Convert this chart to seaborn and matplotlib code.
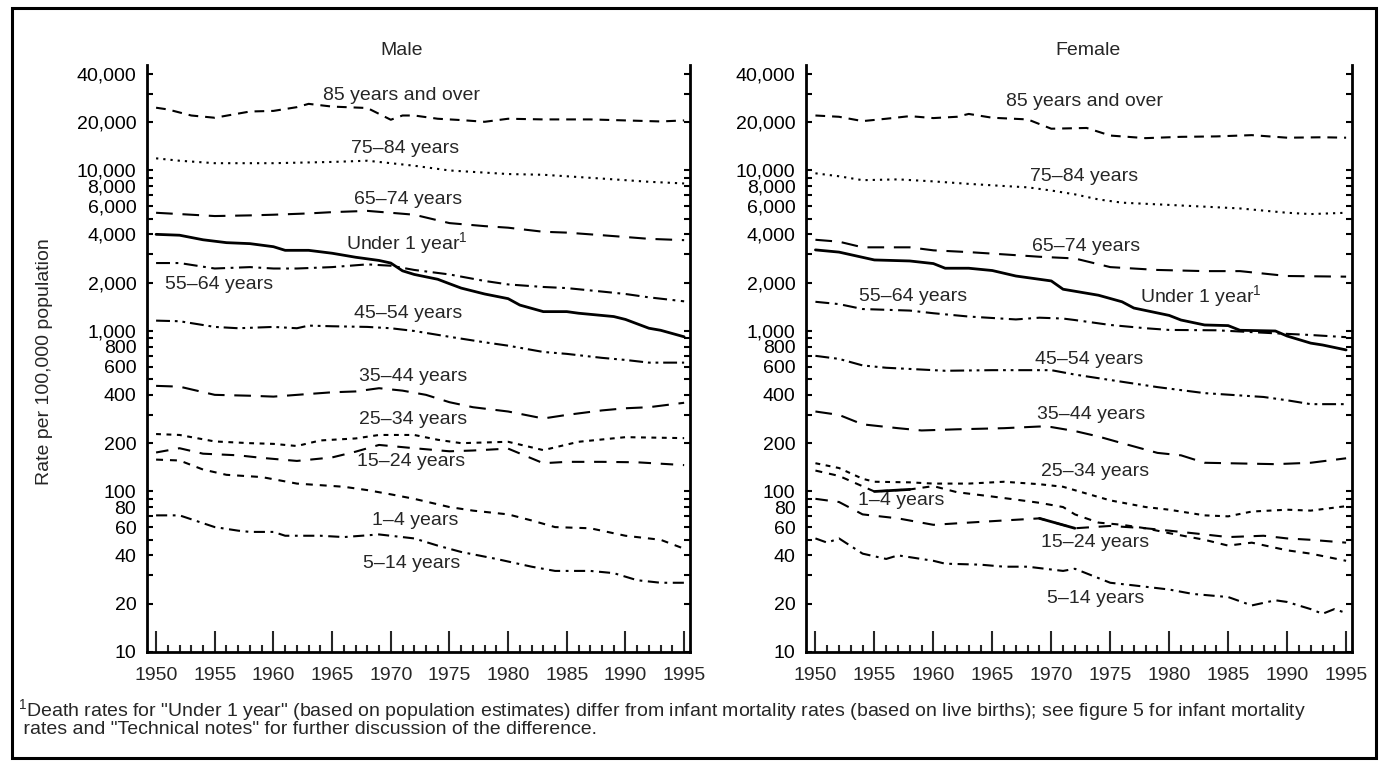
import matplotlib
matplotlib.use('Agg')
import matplotlib.pyplot as plt
import seaborn as sns
from matplotlib.patches import Rectangle
from matplotlib.ticker import FixedLocator, FixedFormatter, MultipleLocator, NullLocator

# ---- data (rate per 100,000) ----
# Male
m_85_yr = [1950, 1951, 1953, 1955, 1958, 1960, 1962, 1963, 1965, 1968, 1970, 1971, 1972, 1974, 1976, 1978, 1980, 1983, 1987, 1990, 1993, 1995]
m_85 = [24600, 24000, 22000, 21300, 23300, 23500, 24800, 26000, 25000, 24500, 20700, 22000, 22000, 21000, 20600, 20100, 21000, 20800, 20800, 20500, 20200, 20500]
m_75_yr = [1950, 1952, 1955, 1960, 1965, 1968, 1970, 1972, 1975, 1980, 1983, 1985, 1988, 1990, 1992, 1995]
m_75 = [11900, 11500, 11100, 11100, 11300, 11500, 11100, 10700, 10000, 9500, 9400, 9200, 8900, 8700, 8500, 8300]
m_65_yr = [1950, 1952, 1955, 1958, 1960, 1963, 1965, 1968, 1970, 1972, 1975, 1978, 1980, 1983, 1985, 1988, 1990, 1992, 1995]
m_65 = [5450, 5350, 5200, 5250, 5300, 5400, 5500, 5600, 5450, 5300, 4700, 4500, 4400, 4150, 4100, 3950, 3850, 3750, 3680]
m_u1_yr = [1950, 1952, 1954, 1956, 1958, 1960, 1961, 1963, 1965, 1967, 1969, 1970, 1971, 1972, 1974, 1975, 1976, 1978, 1980, 1981, 1983, 1985, 1986, 1989, 1990, 1992, 1993, 1995]
m_u1 = [4000, 3950, 3700, 3550, 3500, 3350, 3180, 3180, 3050, 2880, 2750, 2650, 2370, 2250, 2100, 1970, 1850, 1700, 1590, 1450, 1320, 1320, 1290, 1230, 1180, 1040, 1010, 920]
m_55_yr = [1950, 1952, 1955, 1958, 1960, 1962, 1965, 1968, 1970, 1972, 1975, 1978, 1980, 1983, 1985, 1988, 1990, 1992, 1995]
m_55 = [2650, 2650, 2450, 2500, 2450, 2450, 2500, 2600, 2550, 2400, 2250, 2050, 1950, 1880, 1850, 1760, 1700, 1620, 1530]
m_45_yr = [1950, 1952, 1955, 1957, 1960, 1962, 1963, 1965, 1968, 1970, 1972, 1975, 1978, 1980, 1983, 1985, 1988, 1990, 1992, 1995]
m_45 = [1160, 1150, 1060, 1040, 1060, 1040, 1080, 1070, 1060, 1040, 1000, 920, 850, 810, 740, 720, 680, 660, 635, 635]
m_35_yr = [1950, 1952, 1955, 1958, 1960, 1963, 1965, 1967, 1969, 1971, 1973, 1975, 1977, 1980, 1983, 1985, 1988, 1990, 1992, 1995]
m_35 = [455, 450, 400, 395, 390, 405, 415, 420, 440, 425, 400, 360, 335, 315, 285, 300, 320, 330, 335, 357]
m_25_yr = [1950, 1952, 1955, 1958, 1960, 1962, 1964, 1967, 1969, 1972, 1974, 1976, 1980, 1983, 1986, 1990, 1995]
m_25 = [228, 225, 205, 200, 198, 192, 208, 214, 225, 225, 210, 200, 204, 181, 204, 218, 215]
m_15_yr = [1950, 1952, 1954, 1957, 1959, 1962, 1965, 1967, 1969, 1972, 1975, 1977, 1980, 1983, 1985, 1988, 1991, 1995]
m_15 = [175, 186, 172, 168, 162, 155, 163, 177, 195, 186, 178, 180, 185, 150, 153, 153, 152, 146]
m_1_yr = [1950, 1952, 1954, 1956, 1959, 1962, 1966, 1968, 1970, 1972, 1975, 1977, 1980, 1982, 1984, 1987, 1990, 1993, 1995]
m_1 = [158, 156, 137, 127, 123, 112, 107, 102, 96, 90, 80, 76, 72, 66, 60, 59, 53, 50, 44]
m_5_yr = [1950, 1952, 1955, 1957, 1958, 1960, 1961, 1964, 1966, 1969, 1972, 1974, 1976, 1979, 1982, 1984, 1987, 1989, 1991, 1993, 1995]
m_5 = [71, 71, 60, 57, 56, 56, 53, 53, 52, 54, 51, 46, 42, 38, 34, 32, 32, 31, 28, 27, 27]

# Female
f_85_yr = [1950, 1952, 1954, 1956, 1958, 1960, 1962, 1963, 1965, 1968, 1970, 1973, 1975, 1978, 1981, 1984, 1987, 1990, 1993, 1995]
f_85 = [22000, 21600, 20300, 21000, 21800, 21200, 21600, 22500, 21300, 20800, 18200, 18400, 16500, 15900, 16200, 16300, 16600, 16000, 16100, 16000]
f_75_yr = [1950, 1952, 1954, 1957, 1960, 1963, 1966, 1968, 1970, 1972, 1974, 1976, 1980, 1983, 1986, 1990, 1992, 1995]
f_75 = [9600, 9200, 8700, 8800, 8550, 8250, 8000, 7850, 7500, 7100, 6600, 6300, 6100, 5950, 5800, 5450, 5350, 5450]
f_65_yr = [1950, 1952, 1954, 1958, 1960, 1963, 1966, 1969, 1972, 1975, 1979, 1983, 1986, 1990, 1995]
f_65 = [3700, 3600, 3320, 3320, 3180, 3100, 3000, 2900, 2830, 2500, 2400, 2360, 2360, 2200, 2180]
f_u1_yr = [1950, 1952, 1955, 1958, 1960, 1961, 1963, 1965, 1967, 1970, 1971, 1974, 1976, 1977, 1980, 1981, 1983, 1985, 1986, 1989, 1990, 1992, 1993, 1995]
f_u1 = [3200, 3100, 2770, 2730, 2630, 2460, 2460, 2380, 2200, 2050, 1820, 1670, 1520, 1390, 1250, 1170, 1090, 1080, 1010, 1000, 930, 840, 818, 762]
f_55_yr = [1950, 1952, 1954, 1958, 1960, 1963, 1967, 1969, 1971, 1972, 1975, 1978, 1980, 1984, 1989, 1992, 1995]
f_55 = [1520, 1470, 1370, 1340, 1290, 1230, 1180, 1210, 1195, 1170, 1090, 1040, 1015, 1010, 967, 944, 915]
f_45_yr = [1950, 1952, 1954, 1956, 1959, 1961, 1965, 1970, 1972, 1975, 1979, 1983, 1988, 1990, 1992, 1995]
f_45 = [700, 670, 610, 590, 575, 565, 570, 570, 535, 495, 447, 410, 388, 370, 350, 350]
f_35_yr = [1950, 1952, 1954, 1957, 1959, 1962, 1966, 1969, 1970, 1972, 1974, 1976, 1979, 1981, 1983, 1989, 1992, 1995]
f_35 = [315, 300, 262, 248, 240, 244, 248, 254, 252, 238, 220, 200, 174, 168, 151, 148, 151, 161]
f_25_yr = [1950, 1952, 1954, 1955, 1958, 1960, 1963, 1966, 1969, 1971, 1973, 1975, 1978, 1980, 1983, 1985, 1987, 1990, 1992, 1995]
f_25 = [150, 140, 120, 115, 114, 112, 112, 115, 111, 107, 97, 88, 80, 77, 71, 70, 75, 77, 76, 81]
f_15_yr = [1950, 1952, 1954, 1957, 1960, 1963, 1966, 1969, 1972, 1975, 1978, 1980, 1983, 1985, 1988, 1990, 1992, 1995]
f_15 = [90, 86, 72, 68, 62, 64, 66, 68, 59, 61, 59, 57, 54, 52, 53, 51, 50, 48]
f_1_yr = [1950, 1952, 1955, 1958, 1960, 1962, 1965, 1967, 1969, 1971, 1972, 1974, 1976, 1978, 1980, 1983, 1985, 1987, 1990, 1992, 1995]
f_1 = [135, 125, 100, 103, 108, 99, 93, 89, 85, 80, 72, 64, 62, 59, 55, 50, 46, 48, 43, 41, 37]
f_5_yr = [1950, 1951, 1952, 1954, 1956, 1957, 1960, 1961, 1964, 1966, 1968, 1971, 1972, 1975, 1977, 1980, 1982, 1985, 1987, 1989, 1990, 1992, 1993, 1994, 1995]
f_5 = [51, 48, 51, 41, 38, 40, 37, 35.5, 35, 34, 34, 32, 33, 27, 26, 24.5, 23, 22, 19.5, 21, 20.5, 18.5, 17.3, 18.5, 17.5]

# years where the printed female lines turn solid
f_1_solid = (1955, 1958)
f_15_solid = (1969, 1972)

# curve labels: text, year, rate
male_labels = [
    ('85 years and over', 1964.2, 29500), ('75\u201384 years', 1966.6, 13750),
    ('65\u201374 years', 1966.9, 6550), ('Under 1 year$^{1}$', 1966.2, 3550),
    ('55\u201364 years', 1950.8, 1935), ('45\u201354 years', 1966.9, 1290),
    ('35\u201344 years', 1967.3, 519), ('25\u201334 years', 1967.3, 279),
    ('15\u201324 years', 1967.1, 153), ('1\u20134 years', 1968.4, 66),
    ('5\u201314 years', 1967.6, 35.5),
]
female_labels = [
    ('85 years and over', 1966.2, 26800), ('75\u201384 years', 1968.2, 9150),
    ('65\u201374 years', 1968.4, 3350), ('Under 1 year$^{1}$', 1977.5, 1650),
    ('55\u201364 years', 1953.7, 1636), ('45\u201354 years', 1968.6, 660),
    ('35\u201344 years', 1968.8, 300), ('25\u201334 years', 1969.1, 133),
    ('1\u20134 years', 1953.6, 88.5), ('15\u201324 years', 1969.1, 48.4),
    ('5\u201314 years', 1969.6, 21.5),
]

footnote = ('$^{1}$Death rates for "Under 1 year" (based on population estimates) differ from '
            'infant mortality rates (based on live births); see figure 5 for infant mortality\n'
            ' rates and "Technical notes" for further discussion of the difference.')

# dash patterns in points
styles = {
    '85': (0, (7, 5)),
    '75': (0, (1.6, 3.6)),
    '65': (0, (12, 7)),
    'u1': '-',
    '55': (0, (10, 4, 2, 4)),
    '45': (0, (10, 3.5, 2, 3.5, 2, 3.5)),
    '35': (0, (12, 7)),
    '25': (0, (3.5, 4)),
    '15': (0, (9, 7)),
    '1': (0, (5, 5)),
    '5': (0, (8, 4, 2, 4)),
}

sns.set_style('white')
plt.rcParams['font.family'] = ['Liberation Sans', 'DejaVu Sans']
plt.rcParams['mathtext.fontset'] = 'custom'
plt.rcParams['mathtext.rm'] = 'Liberation Sans'
plt.rcParams['mathtext.it'] = 'Liberation Sans'
plt.rcParams['lines.scale_dashes'] = False
FS = 14

fig = plt.figure(figsize=(13.86, 7.66), dpi=100)
W, H = 1386, 766
ax_m = fig.add_axes([146.7 / W, 1 - 652 / H, 543.3 / W, 587 / H])
ax_f = fig.add_axes([806 / W, 1 - 652 / H, 546 / W, 587 / H])

male = [('85', m_85_yr, m_85), ('75', m_75_yr, m_75), ('65', m_65_yr, m_65),
        ('u1', m_u1_yr, m_u1), ('55', m_55_yr, m_55), ('45', m_45_yr, m_45),
        ('35', m_35_yr, m_35), ('25', m_25_yr, m_25), ('15', m_15_yr, m_15),
        ('1', m_1_yr, m_1), ('5', m_5_yr, m_5)]
female = [('85', f_85_yr, f_85), ('75', f_75_yr, f_75), ('65', f_65_yr, f_65),
          ('u1', f_u1_yr, f_u1), ('55', f_55_yr, f_55), ('45', f_45_yr, f_45),
          ('35', f_35_yr, f_35), ('25', f_25_yr, f_25), ('15', f_15_yr, f_15),
          ('1', f_1_yr, f_1), ('5', f_5_yr, f_5)]

for ax, series in [(ax_m, male), (ax_f, female)]:
    for key, yr, val in series:
        lw = 2.0 if key == 'u1' else 1.5
        sns.lineplot(x=yr, y=val, ax=ax, color='black', lw=lw,
                     linestyle=styles[key], errorbar=None)

# solid stretches in the female panel
for yr, val, span in [(f_1_yr, f_1, f_1_solid), (f_15_yr, f_15, f_15_solid)]:
    xs = [y for y in yr if span[0] <= y <= span[1]]
    ys = [v for y, v in zip(yr, val) if span[0] <= y <= span[1]]
    sns.lineplot(x=xs, y=ys, ax=ax_f, color='black', lw=2.0, errorbar=None)

tick_vals = [m * 10 ** k for k in range(1, 5) for m in range(1, 10) if m * 10 ** k <= 40000]
labeled = {10, 20, 40, 60, 80, 100, 200, 400, 600, 800, 1000, 2000, 4000,
           6000, 8000, 10000, 20000, 40000}
tick_text = [f'{v:,}' if v in labeled else '' for v in tick_vals]

for ax, title, tx, labels in [(ax_m, 'Male', 1970.9, male_labels),
                              (ax_f, 'Female', 1973.1, female_labels)]:
    ax.set_yscale('log')
    ax.set_ylim(10, 45400)
    ax.set_xlim(1949.2, 1995.5)
    ax.yaxis.set_major_locator(FixedLocator(tick_vals))
    ax.yaxis.set_major_formatter(FixedFormatter(tick_text))
    ax.yaxis.set_minor_locator(NullLocator())
    ax.xaxis.set_major_locator(MultipleLocator(5))
    ax.xaxis.set_minor_locator(MultipleLocator(1))
    ax.tick_params(axis='y', which='major', direction='in', left=True, right=True,
                   labelright=False, length=4.5, width=1.5, pad=7.5,
                   labelsize=FS, colors='black')
    ax.tick_params(axis='x', which='major', direction='in', bottom=True,
                   length=15, width=1.5, pad=11, labelsize=FS)
    ax.tick_params(axis='x', which='minor', direction='in', bottom=True,
                   length=5.3, width=1.5)
    for s in ['left', 'bottom', 'right']:
        ax.spines[s].set_visible(True)
        ax.spines[s].set_linewidth(2.0)
        ax.spines[s].set_color('black')
    ax.spines['top'].set_visible(False)
    ax.set_xlabel('')
    ax.set_ylabel('')
    ax.grid(False)
    ax.text(tx, 56000, title, ha='center', va='center', fontsize=FS, clip_on=False)
    for txt, x, y in labels:
        ax.text(x, y, txt, ha='left', va='center', fontsize=FS)

fig.text(45 / W, 1 - 362 / H, 'Rate per 100,000 population', rotation=90,
         ha='center', va='center', fontsize=FS)

fig.text(18 / W, 1 - 697 / H, footnote, ha='left', va='top',
         fontsize=14, linespacing=0.82)

fig.add_artist(Rectangle((12 / W, 8 / H), (1376 - 12) / W, (758 - 8) / H,
                         transform=fig.transFigure, fill=False, lw=2.2, ec='black'))

fig.savefig('out.png', dpi=100, facecolor='white')
